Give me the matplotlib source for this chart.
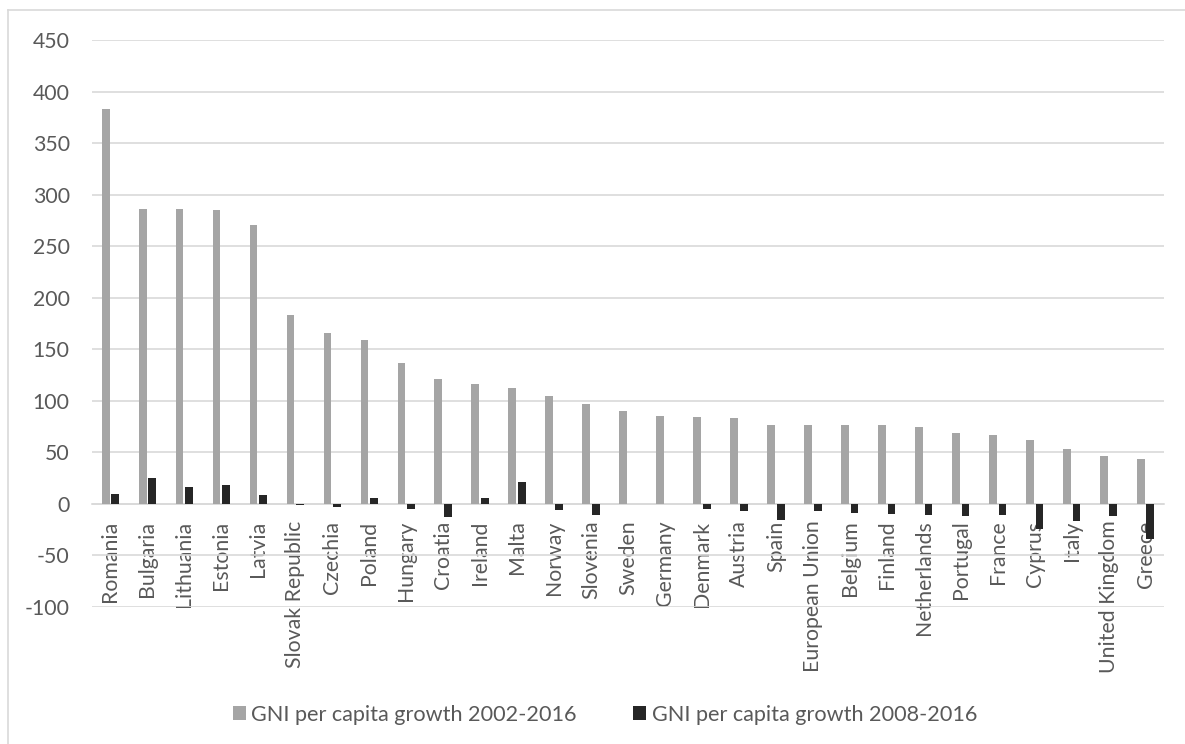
import numpy as np
import matplotlib
matplotlib.use("Agg")
import matplotlib.pyplot as plt
from matplotlib.lines import Line2D
from matplotlib.ticker import FuncFormatter

# Data
countries = ["Romania", "Bulgaria", "Lithuania", "Estonia", "Latvia",
             "Slovak Republic", "Czechia", "Poland", "Hungary", "Croatia",
             "Ireland", "Malta", "Norway", "Slovenia", "Sweden", "Germany",
             "Denmark", "Austria", "Spain", "European Union", "Belgium",
             "Finland", "Netherlands", "Portugal", "France", "Cyprus",
             "Italy", "United Kingdom", "Greece"]
growth_2002_2016 = [383.4, 286.2, 285.9, 285.5, 270.3, 183.4, 166.0, 158.9,
                    136.3, 121.4, 116.3, 112.4, 105.0, 97.2, 90.1, 85.3, 84.3,
                    83.3, 76.8, 76.6, 76.2, 76.2, 74.6, 69.1, 66.9, 62.0,
                    53.3, 46.5, 43.3]
growth_2008_2016 = [9.7, 25.5, 16.8, 18.4, 8.4, -1.0, -3.2, 5.8, -4.8, -12.9,
                    5.5, 21.0, -6.1, -10.7, -0.5, -0.3, -5.2, -6.5, -15.5,
                    -7.1, -8.7, -9.7, -10.7, -11.3, -11.0, -23.9, -16.1,
                    -11.6, -34.2]
labels = ["GNI per capita growth 2002-2016", "GNI per capita growth 2008-2016"]
yticks = list(range(-100, 451, 50))

text_color = "#595959"
grid_color = "#D9D9D9"

plt.rcParams['font.family'] = ['Lato', 'DejaVu Sans']

fig = plt.figure(figsize=(11.85, 7.44), dpi=100)
ax = fig.add_axes([92 / 1185, 1 - 607 / 744, (1164 - 92) / 1185, (607 - 40) / 744])

x = np.arange(len(countries))
w = 0.21
ax.bar(x - 0.13, growth_2002_2016, w, color="#A5A5A5", label=labels[0], zorder=3)
ax.bar(x + 0.13, growth_2008_2016, w, color="#262626", label=labels[1], zorder=3)

ax.set_xlim(-0.5, len(countries) - 0.5)
ax.set_ylim(-100, 450)
ax.set_yticks(yticks)
ax.yaxis.set_major_formatter(FuncFormatter(lambda v, p: "%d" % v))
ax.yaxis.grid(True, color=grid_color, linewidth=1.2, zorder=0)
ax.set_axisbelow(True)

for s in ["top", "right", "left"]:
    ax.spines[s].set_visible(False)
ax.spines["bottom"].set_position(("data", 0))
ax.spines["bottom"].set_color(grid_color)
ax.spines["bottom"].set_linewidth(1.2)

ax.set_xticks(x)
ax.set_xticklabels(countries, rotation=90, fontsize=15.3, color=text_color)
ax.tick_params(axis="x", length=0, pad=12)
ax.tick_params(axis="y", length=0, pad=16, labelsize=15.3, labelcolor=text_color)

leg = fig.legend(loc="center", bbox_to_anchor=(605 / 1185, 1 - 715 / 744), ncol=2,
                 frameon=False, fontsize=15.6, handlelength=0.6, handleheight=0.6,
                 handletextpad=0.25, columnspacing=2.6)
for t in leg.get_texts():
    t.set_color(text_color)

# chart area border (top and left edges visible in the crop)
fig.add_artist(Line2D([8 / 1185, 8 / 1185], [0, 1 - 10 / 744], color=grid_color,
                      linewidth=1.2, transform=fig.transFigure))
fig.add_artist(Line2D([8 / 1185, 1], [1 - 10 / 744, 1 - 10 / 744], color=grid_color,
                      linewidth=1.2, transform=fig.transFigure))

plt.savefig("out.png", dpi=100)
